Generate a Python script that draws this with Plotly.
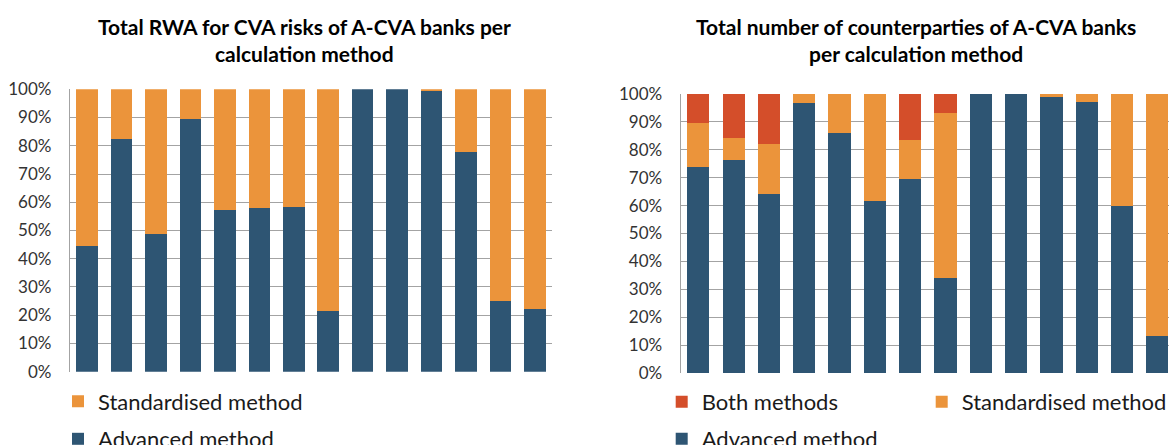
import plotly.graph_objects as go

# ---- data ----
banks = list(range(14))

rwa_advanced = [44.5, 82.3, 48.8, 89.6, 57.4, 58.0, 58.3, 21.6, 100, 100, 99.5, 77.8, 24.9, 22.1]
rwa_standardised = [55.5, 17.7, 51.2, 10.4, 42.6, 42.0, 41.7, 78.4, 0, 0, 0.5, 22.2, 75.1, 77.9]

cp_advanced = [73.7, 76.4, 64.3, 96.9, 86.2, 61.6, 69.5, 34.0, 100, 100, 99.0, 97.3, 59.9, 13.2]
cp_standardised = [15.8, 7.7, 17.8, 3.1, 13.8, 38.4, 13.9, 59.2, 0, 0, 1.0, 2.7, 40.1, 86.8]
cp_both = [10.5, 15.9, 17.9, 0, 0, 0, 16.6, 6.8, 0, 0, 0, 0, 0, 0]

tick_vals = [0, 10, 20, 30, 40, 50, 60, 70, 80, 90, 100]
tick_text = [f"{v}%" for v in tick_vals]

title_left = ["Total RWA for CVA risks of A-CVA banks per", "calculation method"]
title_right = ["Total number of counterparties of A-CVA banks", "per calculation method"]

# ---- style ----
BLUE = "#2E5573"
ORANGE = "#EB943B"
RED = "#D44E2A"
FONT = "Lato"
W, H = 1169, 445

fig = go.Figure()

fig.add_trace(go.Bar(x=banks, y=rwa_advanced, name="Advanced method", marker_color=BLUE,
                     xaxis="x", yaxis="y", legend="legend2"))
fig.add_trace(go.Bar(x=banks, y=rwa_standardised, name="Standardised method", marker_color=ORANGE,
                     xaxis="x", yaxis="y", legend="legend"))

fig.add_trace(go.Bar(x=banks, y=cp_advanced, name="Advanced method", marker_color=BLUE,
                     xaxis="x2", yaxis="y2", legend="legend5"))
fig.add_trace(go.Bar(x=banks, y=cp_standardised, name="Standardised method", marker_color=ORANGE,
                     xaxis="x2", yaxis="y2", legend="legend4"))
fig.add_trace(go.Bar(x=banks, y=cp_both, name="Both methods", marker_color=RED,
                     xaxis="x2", yaxis="y2", legend="legend3"))

fig.update_traces(marker_line_width=0, hoverinfo="skip")

yax_common = dict(range=[0, 100], tickvals=tick_vals, ticktext=tick_text, showgrid=True,
                  gridcolor="#A3A3A3", gridwidth=1.3, zeroline=False, showline=True,
                  linecolor="#A3A3A3", linewidth=1.3, ticks="", ticklabelstandoff=14,
                  tickfont=dict(family=FONT, size=17, color="#333333"), fixedrange=True)
xax_common = dict(showticklabels=False, showgrid=False, zeroline=False, showline=False, ticks="",
                  fixedrange=True)


def px_x(p):
    return p / W


def py(p):
    return 1 - p / H


leg_font = dict(family=FONT, size=22, color="#1a1a1a")


def leg(x_text, y_center):
    return dict(x=px_x(x_text - 40), y=py(y_center), xanchor="left", yanchor="middle",
                orientation="v", font=leg_font, bgcolor="rgba(0,0,0,0)", borderwidth=0,
                itemclick=False, itemdoubleclick=False)


fig.update_layout(
    width=W, height=H,
    margin=dict(l=0, r=0, t=0, b=0, pad=0, autoexpand=False),
    paper_bgcolor="white", plot_bgcolor="white",
    barmode="stack", bargap=0.37,
    xaxis=dict(domain=[px_x(70), px_x(552)], range=[-0.5, 13.5], anchor="y", **xax_common),
    yaxis=dict(domain=[py(371.7), py(89.3)], anchor="x", **yax_common),
    xaxis2=dict(domain=[px_x(680.7), 1.0], range=[-0.5, 13.33], anchor="y2", **xax_common),
    yaxis2=dict(domain=[py(373), py(94)], anchor="x2", **yax_common),
    showlegend=True,
    legend=leg(98, 401.5),
    legend2=leg(98, 439),
    legend3=leg(701.7, 402),
    legend4=leg(961.7, 402),
    legend5=leg(701.7, 439),
    font=dict(family=FONT),
)

title_font = dict(family=FONT, size=21, color="black")
for cx, lines in [(304, title_left), (916, title_right)]:
    for i, (line, yc) in enumerate(zip(lines, [26, 53])):
        fig.add_annotation(text=f"<b>{line}</b>", x=px_x(cx), y=py(yc), xref="paper", yref="paper",
                           xanchor="center", yanchor="middle", showarrow=False, font=title_font)

fig.write_html(
    "out.html",
    config={"displayModeBar": False, "staticPlot": False},
    post_script="document.body.style.margin='0';document.body.style.overflow='hidden';",
)
